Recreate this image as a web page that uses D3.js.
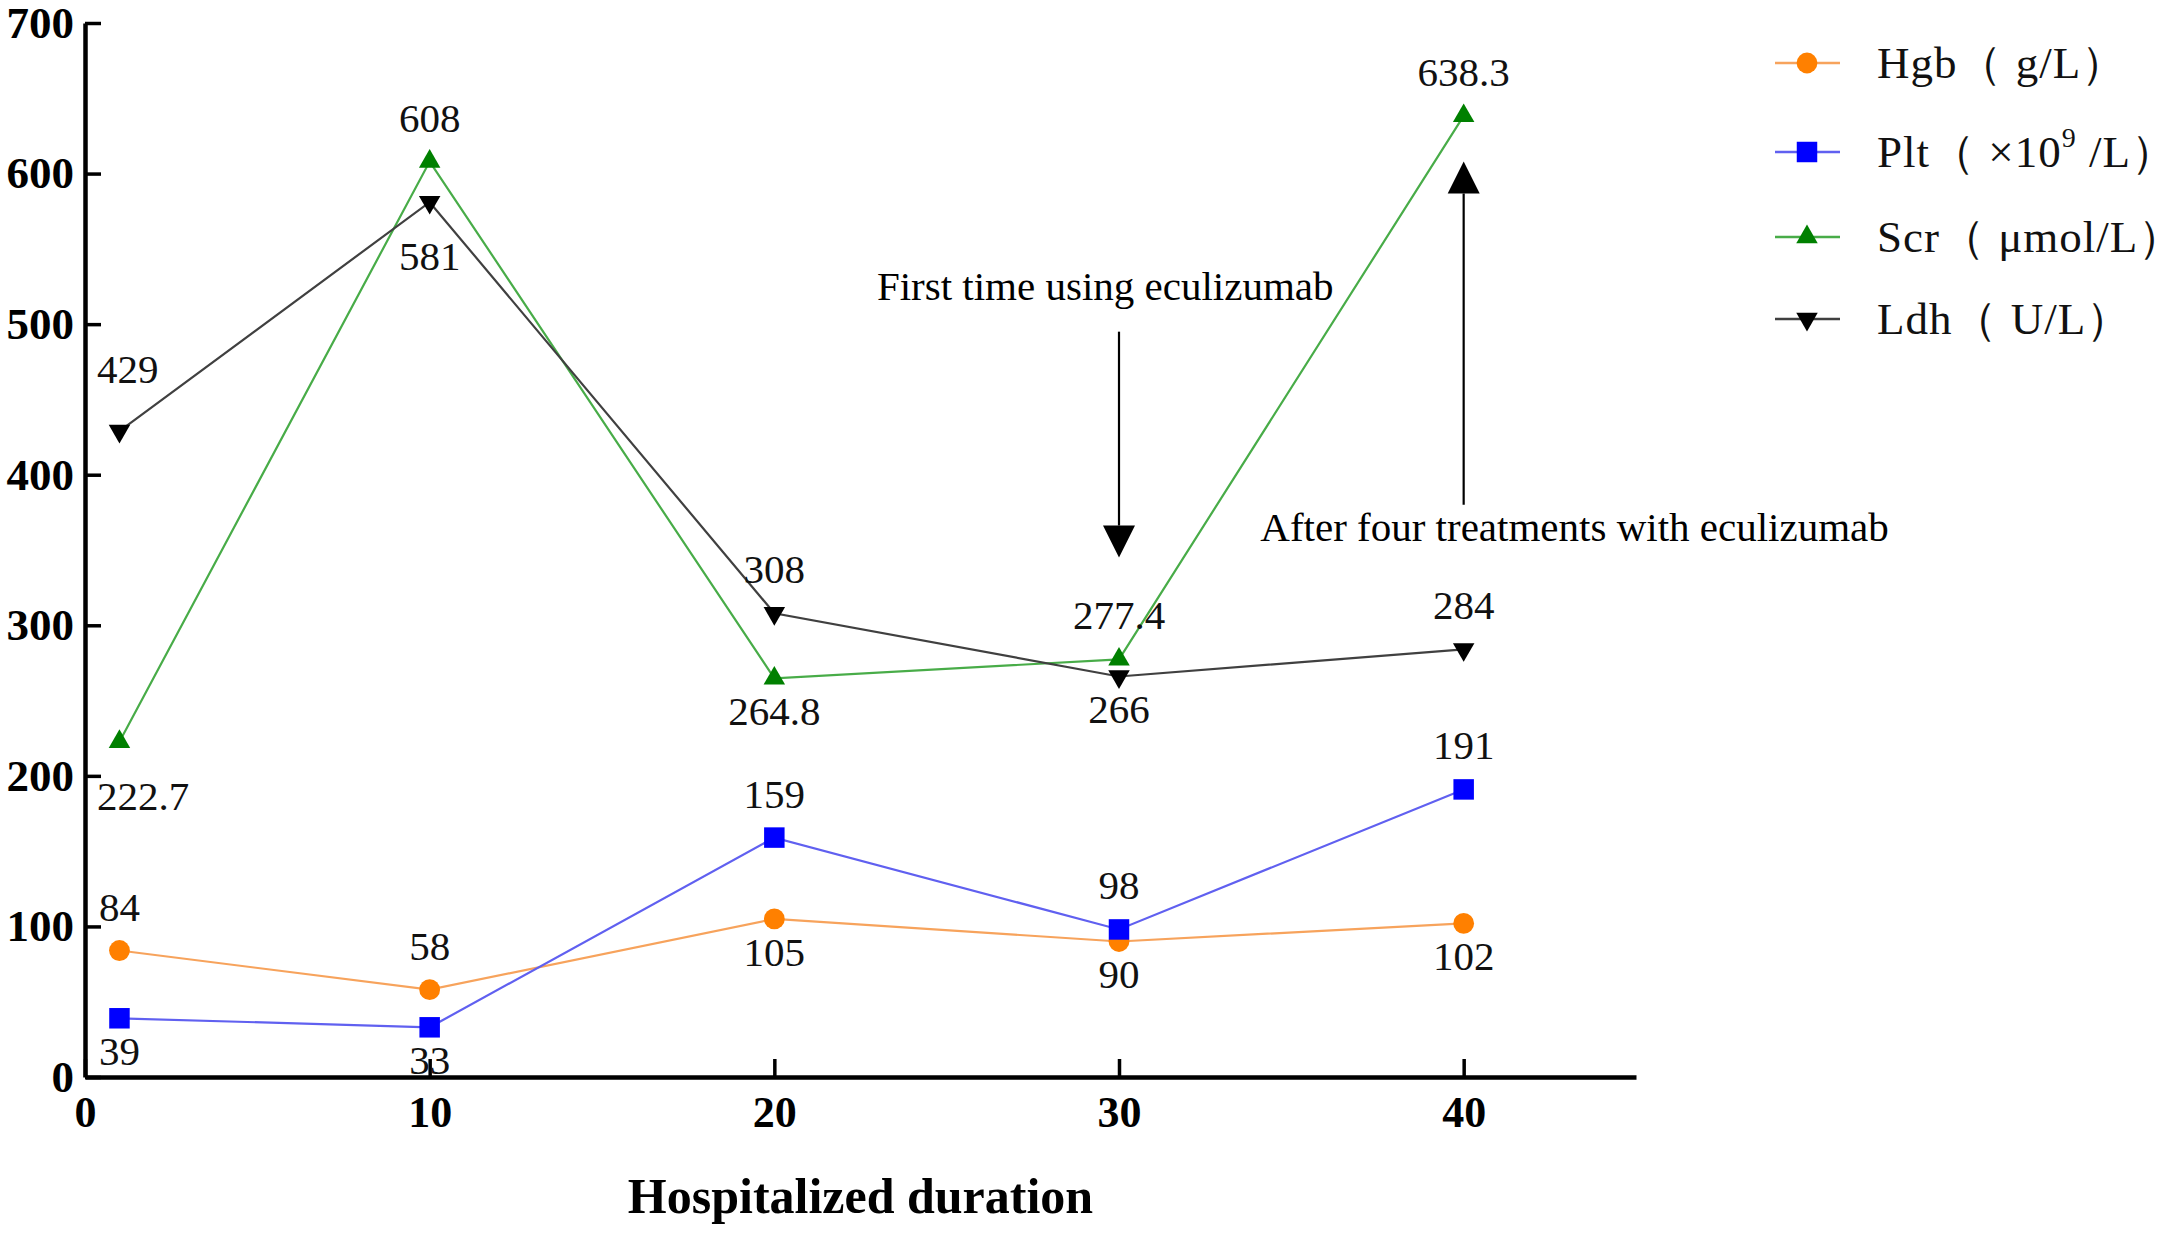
<!DOCTYPE html>
<html>
<head>
<meta charset="utf-8">
<script src="https://cdn.jsdelivr.net/npm/d3@7"></script>
<style>
  body { margin: 0; background: #fff; }
  text { font-family: "Liberation Serif", "Times New Roman", serif; }
</style>
</head>
<body>
<div id="chart"></div>
<script>
// values
const days = [1, 10, 20, 30, 40];
const hgb = [84, 58, 105, 90, 102];
const plt = [39, 33, 159, 98, 191];
const scr = [222.7, 608, 264.8, 277.4, 638.3];
const ldh = [429, 581, 308, 266, 284];

// where each value label sits: "a" above, "b" below, capitals a bit further off
const hgbPos = ["a", "a", "b", "b", "b"];
const pltPos = ["b", "b", "a", "a", "a"];
const scrPos = ["B", "a", "b", "a", "a"];
const ldhPos = ["A", "B", "a", "b", "a"];
const labelShift = {a: -30, A: -48, b: 47, B: 68};

const xTicks = [0, 10, 20, 30, 40];
const yTicks = [0, 100, 200, 300, 400, 500, 600, 700];

const series = [
    {name: "Hgb", unit: "（ g/L）", values: hgb, pos: hgbPos, symbol: d3.symbolCircle, size: 340, rot: 0, fill: "#FF8000", line: "#F7A35C"},
    {name: "Plt", unit: "（ ×10", sup: "9", tail: " /L）", values: plt, pos: pltPos, symbol: d3.symbolSquare, size: 420, rot: 0, fill: "#0000FF", line: "#6060F0"},
    {name: "Scr", unit: "（ μmol/L）", values: scr, pos: scrPos, symbol: d3.symbolTriangle, size: 200, rot: 0, fill: "#008000", line: "#48AC48"},
    {name: "Ldh", unit: "（ U/L）", values: ldh, pos: ldhPos, symbol: d3.symbolTriangle, size: 200, rot: 180, fill: "#000000", line: "#404040"}
];

const annotations = [
    {text: "First time using eculizumab", day: 30, from: 495, to: 345, tx: 29.6, ty: 516, anchor: "middle"},
    {text: "After four treatments with eculizumab", day: 40, from: 380, to: 608, tx: 34.1, ty: 356, anchor: "start"}
];

const width = 2179, height = 1234;

const x = d3.scaleLinear().domain([0, 45]).range([85, 1636]);
const y = d3.scaleLinear().domain([0, 700]).range([1077, 23]);

const svg = d3.select("#chart").append("svg")
    .attr("width", width)
    .attr("height", height)
    .attr("viewBox", [0, 0, width, height]);

// axes
svg.append("g")
    .attr("transform", `translate(0,${y(0)})`)
    .call(d3.axisBottom(x).tickValues(xTicks).tickSize(-18).tickSizeOuter(0).tickPadding(19))
    .call(g => g.select(".domain").attr("stroke-width", 4.5))
    .call(g => g.selectAll(".tick line").attr("stroke-width", 3.5))
    .call(g => g.selectAll(".tick text")
        .attr("font-family", "Liberation Serif")
        .attr("font-weight", "bold")
        .attr("font-size", 44)
        .attr("fill", "#000"));

svg.append("g")
    .attr("transform", `translate(${x(0)},0)`)
    .call(d3.axisLeft(y).tickValues(yTicks).tickSize(-16).tickSizeOuter(0).tickPadding(11))
    .call(g => g.select(".domain").attr("stroke-width", 4.5))
    .call(g => g.selectAll(".tick line").attr("stroke-width", 3.5))
    .call(g => g.selectAll(".tick text")
        .attr("font-family", "Liberation Serif")
        .attr("font-weight", "bold")
        .attr("font-size", 45)
        .attr("fill", "#000"));

svg.append("text")
    .attr("x", (x.range()[0] + x.range()[1]) / 2)
    .attr("y", 1213)
    .attr("text-anchor", "middle")
    .attr("font-weight", "bold")
    .attr("font-size", 50)
    .text("Hospitalized duration");

// lines and markers
const line = d3.line()
    .x((d, i) => x(days[i]))
    .y(d => y(d));

const plot = svg.append("g");

series.forEach(s => {
    plot.append("path")
        .datum(s.values)
        .attr("fill", "none")
        .attr("stroke", s.line)
        .attr("stroke-width", 2.2)
        .attr("d", line);
});

series.forEach(s => {
    plot.append("g")
        .selectAll("path")
        .data(s.values)
        .join("path")
            .attr("transform", (d, i) => `translate(${x(days[i])},${y(d)}) rotate(${s.rot})`)
            .attr("fill", s.fill)
            .attr("d", d3.symbol(s.symbol, s.size));
});

// value labels
const labels = svg.append("g")
    .attr("font-family", "Liberation Serif")
    .attr("font-size", 41)
    .attr("fill", "#111");

series.forEach(s => {
    labels.selectAll(null)
        .data(s.values)
        .join("text")
            .attr("x", (d, i) => x(days[i]))
            .attr("y", (d, i) => y(d) + labelShift[s.pos[i]])
            .attr("text-anchor", "middle")
            .text(d => d)
            .each(function() {
                // keep labels clear of the y axis
                const b = this.getBBox();
                const minX = x(0) + 12;
                if (b.x < minX) this.setAttribute("x", +this.getAttribute("x") + (minX - b.x));
            });
});

// annotation arrows
const ann = svg.append("g");
annotations.forEach(a => {
    const ax = x(a.day), y0 = y(a.from), y1 = y(a.to);
    const dir = Math.sign(y1 - y0);
    const head = 32, half = 16;
    ann.append("line")
        .attr("x1", ax).attr("x2", ax)
        .attr("y1", y0).attr("y2", y1 - dir * head)
        .attr("stroke", "#000")
        .attr("stroke-width", 2.2);
    ann.append("path")
        .attr("d", `M${ax - half},${y1 - dir * head}L${ax + half},${y1 - dir * head}L${ax},${y1}Z`)
        .attr("fill", "#000");
    ann.append("text")
        .attr("x", x(a.tx))
        .attr("y", y(a.ty))
        .attr("text-anchor", a.anchor)
        .attr("font-size", 41)
        .text(a.text);
});

// legend
const legend = svg.append("g")
    .attr("transform", "translate(1775,63)");

const row = legend.selectAll("g")
    .data(series)
    .join("g")
        .attr("transform", (d, i) => `translate(0,${[0, 89, 174, 256][i]})`);

row.append("line")
    .attr("x1", 0).attr("x2", 65)
    .attr("stroke", d => d.line)
    .attr("stroke-width", 2.5);

row.append("path")
    .attr("transform", d => `translate(32,0) rotate(${d.rot})`)
    .attr("fill", d => d.fill)
    .attr("d", d => d3.symbol(d.symbol, d.size)());

const lt = row.append("text")
    .attr("x", 102)
    .attr("y", 15)
    .attr("font-size", 45)
    .attr("letter-spacing", 1)
    .attr("fill", "#111");

lt.append("tspan").text(d => d.name + d.unit);
lt.filter(d => d.sup).append("tspan")
    .attr("font-size", 28)
    .attr("dy", -20)
    .text(d => d.sup);
lt.filter(d => d.tail).append("tspan")
    .attr("dy", 20)
    .text(d => d.tail);
</script>
</body>
</html>
